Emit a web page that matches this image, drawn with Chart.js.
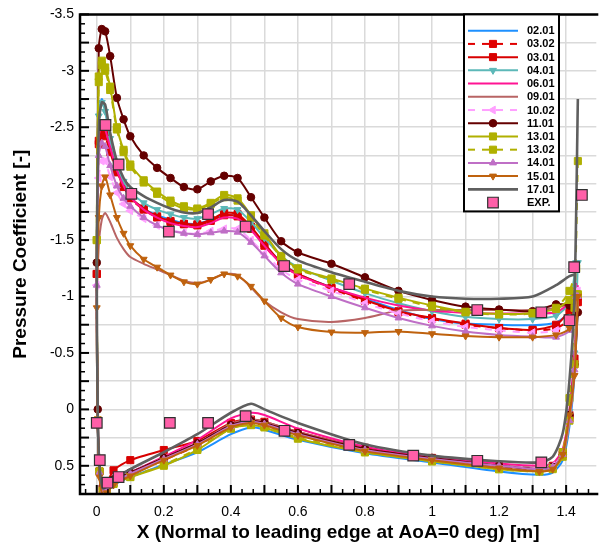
<!DOCTYPE html>
<html lang="en">
<head>
  <meta charset="UTF-8" />
  <title>Pressure Coefficient</title>
  <script src="https://cdn.jsdelivr.net/npm/chart.js@4"></script>
  <style>
    html, body { margin: 0; padding: 0; background: #fff; }
    #wrap { width: 605px; height: 546px; }
  </style>
</head>
<body>
  <div id="wrap"><canvas id="chart" width="605" height="546"></canvas></div>

  <script>
    // x stations (upper surface LE -> TE, lower surface TE -> LE)
    const upperX = [0, 0.006, 0.015, 0.025, 0.04, 0.06, 0.08, 0.1, 0.14, 0.18, 0.22, 0.26, 0.3, 0.34, 0.38,
                    0.42, 0.46, 0.5, 0.55, 0.6, 0.7, 0.8, 0.9, 1.0, 1.1, 1.2, 1.3, 1.37, 1.41, 1.43];
    const lowerX = [1.435, 1.425, 1.41, 1.39, 1.36, 1.32, 1.2, 1.0, 0.8, 0.6, 0.5, 0.46, 0.4, 0.3, 0.2,
                    0.1, 0.05, 0.03, 0.018, 0.008, 0.003];

    const cp0201Up = [-1.3, -2.62, -2.75, -2.66, -2.4, -2.13, -1.98, -1.88, -1.78, -1.72, -1.68, -1.65, -1.645, -1.68, -1.72,
                      -1.71, -1.6, -1.46, -1.3, -1.2, -1.08, -0.98, -0.88, -0.8, -0.76, -0.75, -0.745, -0.77, -0.86, -0.98];
    const cp0201Lo = [-0.95, -0.3, 0.15, 0.45, 0.56, 0.58, 0.55, 0.47, 0.39, 0.27, 0.18, 0.16, 0.22, 0.38, 0.49, 0.6, 0.67, 0.72, 0.74, 0.58, 0.12];

    const cp0302Up = [-1.2, -2.35, -2.45, -2.42, -2.28, -2.1, -1.97, -1.87, -1.77, -1.7, -1.66, -1.64, -1.63, -1.67, -1.72,
                      -1.71, -1.6, -1.45, -1.29, -1.19, -1.07, -0.96, -0.86, -0.8, -0.75, -0.72, -0.7, -0.72, -0.8, -0.95];
    const cp0302Lo = [-0.95, -0.4, 0.08, 0.4, 0.51, 0.53, 0.51, 0.45, 0.37, 0.23, 0.14, 0.12, 0.16, 0.32, 0.45, 0.58, 0.65, 0.7, 0.72, 0.55, 0.1];

    const cp0301Up = [-1.2, -2.38, -2.48, -2.45, -2.3, -2.11, -1.98, -1.88, -1.78, -1.71, -1.67, -1.645, -1.64, -1.68, -1.74,
                      -1.73, -1.62, -1.47, -1.3, -1.2, -1.08, -0.97, -0.87, -0.81, -0.76, -0.72, -0.705, -0.75, -0.88, -1.0];
    const cp0301Lo = [-1.0, -0.45, 0.05, 0.38, 0.5, 0.52, 0.5, 0.43, 0.34, 0.2, 0.11, 0.09, 0.12, 0.28, 0.36, 0.45, 0.54, 0.66, 0.7, 0.55, 0.1];

    const cp0401Up = [-1.3, -2.6, -2.72, -2.64, -2.4, -2.16, -2.02, -1.93, -1.83, -1.77, -1.73, -1.7, -1.69, -1.73, -1.78,
                      -1.77, -1.66, -1.52, -1.36, -1.26, -1.14, -1.03, -0.94, -0.87, -0.82, -0.8, -0.8, -0.83, -0.95, -1.3];
    const cp0401Lo = [-1.3, -0.5, 0.02, 0.37, 0.5, 0.52, 0.5, 0.44, 0.35, 0.21, 0.12, 0.1, 0.14, 0.3, 0.43, 0.56, 0.64, 0.7, 0.72, 0.55, 0.1];

    const cp0601Up = [-1.2, -2.42, -2.52, -2.48, -2.32, -2.12, -1.98, -1.88, -1.77, -1.7, -1.65, -1.625, -1.615, -1.65, -1.7,
                      -1.69, -1.59, -1.45, -1.29, -1.19, -1.08, -0.99, -0.92, -0.875, -0.855, -0.85, -0.85, -0.86, -0.95, -1.12];
    const cp0601Lo = [-1.1, -0.5, 0.0, 0.35, 0.48, 0.5, 0.48, 0.42, 0.33, 0.17, 0.05, 0.03, 0.08, 0.27, 0.42, 0.56, 0.64, 0.7, 0.72, 0.55, 0.1];

    const cp0901Up = [-0.9, -1.45, -1.68, -1.74, -1.66, -1.52, -1.42, -1.35, -1.29, -1.24, -1.19, -1.14, -1.12, -1.15, -1.2,
                      -1.19, -1.08, -0.96, -0.86, -0.8, -0.775, -0.81, -0.875, -0.88, -0.88, -0.88, -0.88, -0.9, -0.95, -1.05];
    const cp0901Lo = [-1.05, -0.4, 0.05, 0.38, 0.5, 0.52, 0.5, 0.44, 0.35, 0.2, 0.11, 0.09, 0.13, 0.3, 0.44, 0.58, 0.66, 0.73, 0.75, 0.58, 0.12];

    const cp1002Up = [-1.1, -2.05, -2.2, -2.2, -2.06, -1.92, -1.82, -1.76, -1.69, -1.63, -1.59, -1.565, -1.555, -1.58, -1.6,
                      -1.6, -1.5, -1.38, -1.24, -1.15, -1.05, -0.94, -0.85, -0.78, -0.73, -0.7, -0.68, -0.7, -0.8, -1.05];
    const cp1002Lo = [-1.05, -0.4, 0.05, 0.39, 0.5, 0.52, 0.5, 0.44, 0.36, 0.21, 0.12, 0.1, 0.14, 0.3, 0.43, 0.56, 0.64, 0.7, 0.72, 0.55, 0.1];

    const cp1101Up = [-1.3, -3.2, -3.37, -3.35, -3.13, -2.76, -2.57, -2.42, -2.25, -2.14, -2.05, -1.97, -1.95, -2.02, -2.07,
                      -2.05, -1.88, -1.7, -1.49, -1.39, -1.29, -1.17, -1.05, -0.97, -0.91, -0.885, -0.87, -0.93, -0.92, -0.86];
    const cp1101Lo = [-0.86, -0.4, 0.05, 0.4, 0.51, 0.53, 0.5, 0.43, 0.35, 0.21, 0.12, 0.1, 0.14, 0.3, 0.43, 0.56, 0.62, 0.66, 0.68, 0.45, 0.0];

    const cp1301Up = [-1.5, -2.95, -3.09, -3.03, -2.86, -2.5, -2.3, -2.17, -2.03, -1.93, -1.85, -1.8, -1.78, -1.83, -1.9,
                      -1.87, -1.72, -1.56, -1.36, -1.25, -1.16, -1.07, -0.99, -0.92, -0.865, -0.845, -0.855, -0.89, -0.97, -1.02];
    const cp1301Lo = [-1.02, -0.4, 0.1, 0.42, 0.53, 0.55, 0.53, 0.46, 0.38, 0.26, 0.16, 0.14, 0.17, 0.36, 0.5, 0.6, 0.66, 0.71, 0.72, 0.55, 0.1];

    const cp1302Up = [-1.5, -2.9, -3.05, -3.0, -2.83, -2.48, -2.28, -2.15, -2.01, -1.91, -1.83, -1.78, -1.77, -1.82, -1.88,
                      -1.85, -1.7, -1.54, -1.35, -1.24, -1.15, -1.06, -0.98, -0.91, -0.86, -0.84, -0.85, -0.9, -1.05, -1.25];
    const cp1302Lo = [-2.2, -0.9, -0.1, 0.38, 0.52, 0.55, 0.53, 0.46, 0.38, 0.25, 0.15, 0.13, 0.17, 0.35, 0.49, 0.6, 0.66, 0.71, 0.72, 0.55, 0.1];

    const cp1401Up = [-1.1, -2.25, -2.36, -2.33, -2.16, -1.98, -1.87, -1.8, -1.7, -1.63, -1.585, -1.56, -1.55, -1.565, -1.58,
                      -1.57, -1.48, -1.36, -1.21, -1.11, -1.0, -0.9, -0.81, -0.74, -0.69, -0.66, -0.645, -0.64, -0.7, -1.0];
    const cp1401Lo = [-1.0, -0.35, 0.1, 0.4, 0.51, 0.53, 0.5, 0.44, 0.36, 0.22, 0.13, 0.11, 0.15, 0.31, 0.44, 0.57, 0.65, 0.71, 0.73, 0.56, 0.1];

    const cp1501Up = [-0.9, -1.7, -1.98, -2.06, -1.9, -1.7, -1.56, -1.45, -1.33, -1.26, -1.19, -1.13, -1.11, -1.15, -1.2,
                      -1.18, -1.09, -0.96, -0.81, -0.73, -0.685, -0.68, -0.69, -0.67, -0.65, -0.64, -0.64, -0.66, -0.72, -1.0];
    const cp1501Lo = [-1.0, -0.3, 0.05, 0.4, 0.53, 0.55, 0.52, 0.45, 0.37, 0.23, 0.14, 0.12, 0.16, 0.32, 0.45, 0.59, 0.67, 0.74, 0.76, 0.6, 0.15];

    const cp1701Up = [-1.2, -2.5, -2.72, -2.7, -2.45, -2.2, -2.05, -1.97, -1.89, -1.83, -1.78, -1.745, -1.74, -1.79, -1.855,
                      -1.84, -1.72, -1.58, -1.42, -1.32, -1.215, -1.13, -1.05, -1.0, -0.98, -0.98, -1.0, -1.1, -1.18, -1.2];
    const cp1701Lo = [-2.75, -1.0, -0.26, 0.21, 0.42, 0.47, 0.46, 0.41, 0.31, 0.12, 0.0, -0.05, 0.03, 0.22, 0.38, 0.53, 0.62, 0.68, 0.7, 0.5, 0.05];

    // experiment
    const expX  = [0.026, 0.065, 0.103, 0.215, 0.332, 0.444, 0.559, 0.753, 1.135, 1.326, 1.41, 1.424, 1.447,
                   0.0, 0.009, 0.032, 0.065, 0.218, 0.332, 0.444, 0.56, 0.753, 0.944, 1.135, 1.326];
    const expCp = [-2.52, -2.17, -1.91, -1.575, -1.73, -1.62, -1.27, -1.11, -0.88, -0.86, -0.79, -1.26, -1.9,
                   0.12, 0.45, 0.65, 0.6, 0.12, 0.12, 0.06, 0.19, 0.315, 0.41, 0.456, 0.47];

    const seriesNames = ['02.01', '03.02', '03.01', '04.01', '06.01', '09.01', '10.02',
                         '11.01', '13.01', '13.02', '14.01', '15.01', '17.01'];
    const seriesUp = [cp0201Up, cp0302Up, cp0301Up, cp0401Up, cp0601Up, cp0901Up, cp1002Up,
                      cp1101Up, cp1301Up, cp1302Up, cp1401Up, cp1501Up, cp1701Up];
    const seriesLo = [cp0201Lo, cp0302Lo, cp0301Lo, cp0401Lo, cp0601Lo, cp0901Lo, cp1002Lo,
                      cp1101Lo, cp1301Lo, cp1302Lo, cp1401Lo, cp1501Lo, cp1701Lo];

    // look of each series
    const looks = [
      { color: '#1e90ff', dash: [], marker: false },
      { color: '#e00000', dash: [7, 7], marker: 'rect', rot: 0, r: 5 },
      { color: '#d80000', dash: [], marker: 'rect', rot: 0, r: 5 },
      { color: '#5cb8b8', dash: [], marker: 'triangle', rot: 180, r: 4 },
      { color: '#ff1493', dash: [], marker: false },
      { color: '#b86464', dash: [], marker: false },
      { color: '#ffa0ff', dash: [7, 7], marker: 'triangle', rot: 270, r: 4.5 },
      { color: '#650000', dash: [], marker: 'circle', rot: 0, r: 3.8 },
      { color: '#b0b000', dash: [], marker: 'rect', rot: 0, r: 5 },
      { color: '#b0b000', dash: [7, 7], marker: 'rect', rot: 0, r: 5 },
      { color: '#bf6fc6', dash: [], marker: 'triangle', rot: 0, r: 4 },
      { color: '#bf620e', dash: [], marker: 'triangle', rot: 180, r: 4 },
      { color: '#5f5f5f', dash: [], marker: false, width: 2.6 }
    ];
    const expLook = { color: '#ff5fa8', border: '#303030', marker: 'rect', rot: 0, r: 7.5 };

    function loopPoints(lo, up) {
      return lowerX.map((x, i) => ({ x: x, y: lo[i] }))
        .concat(upperX.map((x, i) => ({ x: x, y: up[i] })));
    }

    const datasets = seriesNames.map((name, k) => {
      const lk = looks[k];
      return {
        label: name,
        data: loopPoints(seriesLo[k], seriesUp[k]),
        borderColor: lk.color,
        backgroundColor: lk.color,
        borderWidth: lk.width || 2,
        borderDash: lk.dash,
        tension: 0.25,
        pointStyle: lk.marker || 'circle',
        pointRotation: lk.rot || 0,
        pointRadius: lk.marker ? lk.r : 0,
        pointBackgroundColor: lk.color,
        pointBorderColor: lk.color,
        pointBorderWidth: 1,
        order: 20 - k
      };
    });
    datasets.push({
      label: 'EXP.',
      data: expX.map((x, i) => ({ x: x, y: expCp[i] })),
      showLine: false,
      pointStyle: 'rect',
      pointRadius: expLook.r,
      pointBackgroundColor: expLook.color,
      pointBorderColor: expLook.border,
      pointBorderWidth: 1.2,
      order: 0
    });

    function drawMarker(ctx, style, rot, r, x, y) {
      if (Chart.helpers && Chart.helpers.drawPoint) {
        Chart.helpers.drawPoint(ctx, { pointStyle: style, rotation: rot, radius: r, borderWidth: ctx.lineWidth }, x, y);
        return;
      }
      ctx.beginPath();
      if (style === 'circle') ctx.arc(x, y, r, 0, Math.PI * 2);
      else { const s = r * Math.SQRT1_2; ctx.rect(x - s, y - s, 2 * s, 2 * s); }
      ctx.fill(); ctx.stroke();
    }

    // inward tick marks and frame
    const framePlugin = {
      id: 'frame',
      afterDatasetsDraw(chart) {
        const { ctx, chartArea: a, scales } = chart;
        const xs = scales.x, ys = scales.y;
        ctx.save();
        ctx.strokeStyle = '#000';
        for (let i = 0; i <= 51; i++) {
          const py = ys.getPixelForValue(-3.5 + i * 0.25 / 3);
          const major = i % 3 === 0;
          ctx.lineWidth = major ? 2 : 1.5;
          ctx.beginPath();
          ctx.moveTo(a.left, py);
          ctx.lineTo(a.left + (major ? 9 : 5), py);
          ctx.stroke();
        }
        for (let i = -1; i <= 45; i++) {
          const v = i * 0.1 / 3;
          if (v < xs.min || v > xs.max) continue;
          const px = xs.getPixelForValue(v);
          const major = i % 3 === 0;
          ctx.lineWidth = major ? 2 : 1.5;
          ctx.beginPath();
          ctx.moveTo(px, a.bottom);
          ctx.lineTo(px, a.bottom - (major ? 9 : 5));
          ctx.stroke();
        }
        ctx.lineWidth = 2.5;
        ctx.beginPath();
        ctx.moveTo(a.right + 2, a.top);
        ctx.lineTo(a.left, a.top);
        ctx.lineTo(a.left, a.bottom);
        ctx.lineTo(a.right + 2, a.bottom);
        ctx.stroke();
        ctx.restore();
      }
    };

    // boxed legend inside the plot, top right
    const legendPlugin = {
      id: 'boxLegend',
      afterDraw(chart) {
        const { ctx, chartArea: a } = chart;
        const left = 464, top = a.top, w = 95, h = 197;
        const rowH = 13.22, firstRow = a.top + 16.3;
        ctx.save();
        ctx.fillStyle = '#fff';
        ctx.fillRect(left, top, w, h);
        ctx.strokeStyle = '#000';
        ctx.lineWidth = 2;
        ctx.strokeRect(left, top, w, h);
        ctx.font = 'bold 11px "Liberation Sans", Arial, sans-serif';
        ctx.textBaseline = 'middle';
        const x0 = left + 4, x1 = left + 54, xm = (x0 + x1) / 2;
        seriesNames.forEach((name, k) => {
          const lk = looks[k];
          const yy = firstRow + k * rowH;
          ctx.strokeStyle = lk.color;
          ctx.fillStyle = lk.color;
          ctx.lineWidth = lk.width || 2;
          ctx.setLineDash(lk.dash);
          ctx.beginPath();
          ctx.moveTo(x0, yy);
          ctx.lineTo(x1, yy);
          ctx.stroke();
          ctx.setLineDash([]);
          if (lk.marker) {
            ctx.lineWidth = 1;
            drawMarker(ctx, lk.marker, lk.rot, lk.r, xm, yy);
          }
          ctx.fillStyle = '#000';
          ctx.fillText(name, left + 63, yy + 0.5);
        });
        const ye = firstRow + seriesNames.length * rowH;
        ctx.fillStyle = expLook.color;
        ctx.strokeStyle = expLook.border;
        ctx.lineWidth = 1.2;
        drawMarker(ctx, 'rect', 0, expLook.r, xm, ye);
        ctx.fillStyle = '#000';
        ctx.fillText('EXP.', left + 63, ye + 0.5);
        ctx.restore();
      }
    };

    Chart.defaults.font.family = '"Liberation Sans", Arial, Helvetica, sans-serif';
    Chart.defaults.color = '#000';

    new Chart(document.getElementById('chart'), {
      type: 'line',
      data: { datasets: datasets },
      options: {
        responsive: false,
        animation: false,
        events: [],
        layout: { padding: { top: 11, right: 0, left: 0, bottom: 0 } },
        plugins: { legend: { display: false }, tooltip: { enabled: false } },
        scales: {
          x: {
            type: 'linear',
            min: -0.05,
            max: 1.49,
            afterFit: (s) => { s.height = 52; },
            border: { display: false },
            grid: { color: '#dadada', lineWidth: 1.5, drawTicks: false },
            ticks: {
              stepSize: 0.1,
              includeBounds: false,
              autoSkip: false,
              maxRotation: 0,
              padding: 10,
              font: { size: 14 },
              callback: (v) => Math.abs(v * 5 - Math.round(v * 5)) < 1e-6 ? String(Math.round(v * 10) / 10) : ''
            },
            title: {
              display: true,
              text: 'X (Normal to leading edge at AoA=0 deg) [m]',
              font: { size: 19, weight: 'bold' },
              padding: { top: 0, bottom: 2 }
            }
          },
          y: {
            type: 'linear',
            reverse: true,
            min: -3.5,
            max: 0.75,
            afterFit: (s) => { s.width = 80; },
            border: { display: false },
            grid: { color: '#dadada', lineWidth: 1.5, drawTicks: false },
            ticks: {
              stepSize: 0.25,
              autoSkip: false,
              padding: 6,
              font: { size: 14 },
              callback: (v) => Math.abs(v * 2 - Math.round(v * 2)) < 1e-6 ? String(Math.round(v * 10) / 10) : ''
            },
            title: {
              display: true,
              text: 'Pressure Coefficient [-]',
              font: { size: 19, weight: 'bold' },
              padding: { top: 9, bottom: 0 }
            }
          }
        }
      },
      plugins: [framePlugin, legendPlugin]
    });
  </script>
</body>
</html>
